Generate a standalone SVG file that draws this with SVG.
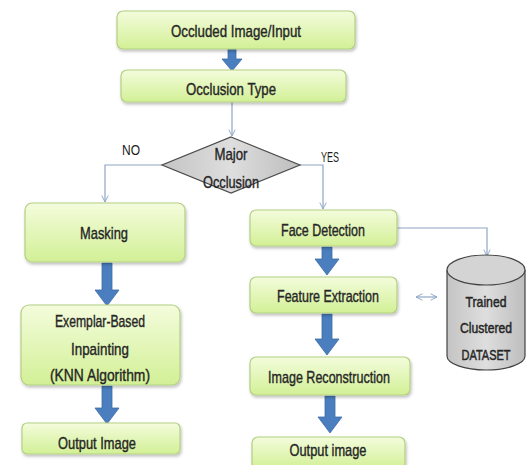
<svg xmlns="http://www.w3.org/2000/svg" width="527" height="465" viewBox="0 0 527 465">
<defs>
<linearGradient id="boxg" x1="0" y1="0" x2="0" y2="1">
<stop offset="0" stop-color="#f4fcdc"/>
<stop offset="1" stop-color="#d2f096"/>
</linearGradient>
<linearGradient id="grayg" x1="0" y1="0" x2="1" y2="0">
<stop offset="0" stop-color="#c4c4c4"/>
<stop offset="0.5" stop-color="#dedede"/>
<stop offset="1" stop-color="#bdbdbd"/>
</linearGradient>
<filter id="sh" x="-10%" y="-10%" width="125%" height="140%">
<feDropShadow dx="1" dy="2" stdDeviation="1.5" flood-color="#000" flood-opacity="0.25"/>
</filter>
<marker id="open" viewBox="0 0 10 10" refX="9" refY="5" markerWidth="8" markerHeight="8" orient="auto-start-reverse" markerUnits="userSpaceOnUse">
<path d="M1,1 L9,5 L1,9" fill="none" stroke="#8ea6c6" stroke-width="1.2"/>
</marker>
</defs>
<style>
.box{fill:url(#boxg);stroke:#b4cf84;stroke-width:1.2;filter:url(#sh)}
.t{font-family:"Liberation Sans",Arial,sans-serif;font-size:17px;fill:#262626;stroke:#262626;stroke-width:0.4;text-anchor:middle}
.c{font-size:15px;stroke-width:0.5}
.s{font-family:"Liberation Sans",Arial,sans-serif;font-size:15px;fill:#1c1c1c}
.conn{fill:none;stroke:#8ea6c6;stroke-width:1.2}
.big{fill:#4a7ebf;stroke:#3d6ca6;stroke-width:0.8}
</style>
<rect width="527" height="465" fill="#ffffff"/>

<g id="connectors">
<path class="conn" d="M232,102 L232,136" marker-end="url(#open)"/>
<path class="conn" d="M162,165 L105,165 L105,202" marker-end="url(#open)"/>
<path class="conn" d="M300,165 L323,165 L323,209" marker-end="url(#open)"/>
<path class="conn" d="M397,228 L487,228 L487,256" marker-end="url(#open)"/>
<path class="conn" d="M416,297 L437,297" marker-start="url(#open)" marker-end="url(#open)"/>
<path class="big" d="M228,49 L236,49 L236,59 L242,59 L232,71 L222,59 L228,59 Z"/>
<path class="big" d="M102,263 L112,263 L112,290 L119,290 L107,306 L95,290 L102,290 Z"/>
<path class="big" d="M102,386 L112,386 L112,408 L119,408 L107,424 L95,408 L102,408 Z"/>
<path class="big" d="M322,247 L332,247 L332,259 L339,259 L327,275 L315,259 L322,259 Z"/>
<path class="big" d="M322,314 L332,314 L332,339 L339,339 L327,355 L315,339 L322,339 Z"/>
<path class="big" d="M325,396 L335,396 L335,417 L342,417 L330,433 L318,417 L325,417 Z"/>
</g>

<g id="n-input">
<rect class="box" x="117" y="11" width="238" height="38" rx="6"/>
<text class="t" x="236" y="37" textLength="130" lengthAdjust="spacingAndGlyphs">Occluded Image/Input</text>
</g>
<g id="n-type">
<rect class="box" x="121" y="70" width="225" height="32" rx="6"/>
<text class="t" x="231" y="95" textLength="90" lengthAdjust="spacingAndGlyphs">Occlusion Type</text>
</g>
<g id="n-major">
<polygon points="231,137 300,165 231,193 162,165" fill="url(#grayg)" stroke="#4a4a4a" stroke-width="1.2"/>
<text class="t" x="231" y="160" textLength="33" lengthAdjust="spacingAndGlyphs">Major</text>
<text class="t" x="231" y="188" textLength="56" lengthAdjust="spacingAndGlyphs">Occlusion</text>
</g>
<text class="s" x="122" y="155" textLength="18" lengthAdjust="spacingAndGlyphs">NO</text>
<text class="s" x="321" y="162" textLength="18" lengthAdjust="spacingAndGlyphs">YES</text>

<g id="n-masking">
<rect class="box" x="25" y="203" width="160" height="59" rx="7"/>
<text class="t" x="104" y="239" textLength="48" lengthAdjust="spacingAndGlyphs">Masking</text>
</g>
<g id="n-exemplar">
<rect class="box" x="21" y="305" width="159" height="80" rx="8"/>
<text class="t" x="100" y="327" textLength="90" lengthAdjust="spacingAndGlyphs">Exemplar-Based</text>
<text class="t" x="100" y="355" textLength="58" lengthAdjust="spacingAndGlyphs">Inpainting</text>
<text class="t" x="100" y="381" textLength="100" lengthAdjust="spacingAndGlyphs">(KNN Algorithm)</text>
</g>
<g id="n-output-left">
<rect class="box" x="22" y="423" width="158" height="31" rx="5"/>
<text class="t" x="97" y="449" textLength="78" lengthAdjust="spacingAndGlyphs">Output Image</text>
</g>

<g id="n-face">
<rect class="box" x="250" y="210" width="147" height="36" rx="6"/>
<text class="t" x="323" y="236" textLength="84" lengthAdjust="spacingAndGlyphs">Face Detection</text>
</g>
<g id="n-feature">
<rect class="box" x="250" y="277" width="147" height="36" rx="6"/>
<text class="t" x="328" y="302" textLength="102" lengthAdjust="spacingAndGlyphs">Feature Extraction</text>
</g>
<g id="n-recon">
<rect class="box" x="250" y="357" width="160" height="38" rx="6"/>
<text class="t" x="329" y="383" textLength="122" lengthAdjust="spacingAndGlyphs">Image Reconstruction</text>
</g>
<g id="n-output-right">
<rect class="box" x="252" y="437" width="153" height="32" rx="6"/>
<text class="t" x="328" y="456" textLength="77" lengthAdjust="spacingAndGlyphs">Output image</text>
</g>

<g id="n-dataset">
<path d="M447,270 L447,356 A39,14 0 0 0 525,356 L525,270" fill="url(#grayg)" stroke="#444" stroke-width="1.2"/>
<ellipse cx="486" cy="270" rx="39" ry="15" fill="#d4d4d4" stroke="#444" stroke-width="1.2"/>
<text class="t c" x="486" y="307" textLength="41" lengthAdjust="spacingAndGlyphs">Trained</text>
<text class="t c" x="486" y="333" textLength="52" lengthAdjust="spacingAndGlyphs">Clustered</text>
<text class="t c" x="486" y="360" textLength="49" lengthAdjust="spacingAndGlyphs">DATASET</text>
</g>
</svg>
